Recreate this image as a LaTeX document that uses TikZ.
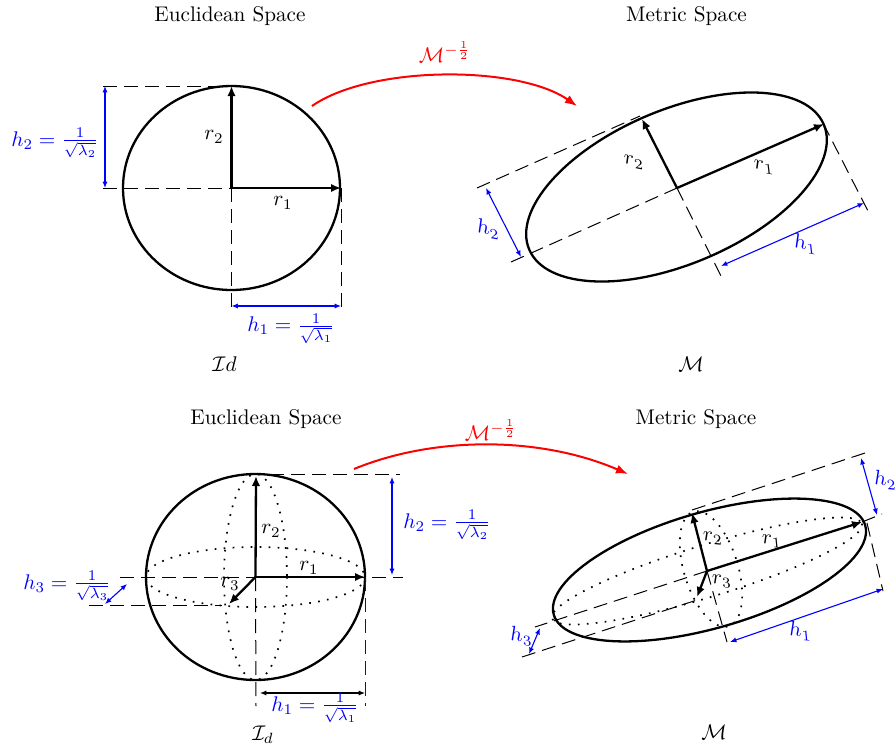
\documentclass[tikz,border=0pt]{standalone}
\usepackage{amsmath}
\usetikzlibrary{arrows.meta}
\tikzset{
  every node/.style={inner sep=0pt,outer sep=0pt,scale=1.06},
  outline/.style={draw=black,line width=1.15pt},
  radius arrow/.style={draw=black,line width=1.15pt,-{Latex[length=5pt,width=4.2pt]}},
  guide/.style={draw=black,line width=0.5pt,dash pattern=on 7pt off 3.5pt},
  blue guide/.style={draw=blue,line width=0.5pt,dash pattern=on 7pt off 3.5pt},
  dim/.style={draw=blue,line width=0.55pt,{Latex[length=3.2pt,width=2.6pt]}-{Latex[length=3.2pt,width=2.6pt]}},
  black dim/.style={draw=black,line width=0.55pt,{Latex[length=3.2pt,width=2.6pt]}-{Latex[length=3.2pt,width=2.6pt]}},
  map arrow/.style={draw=red,line width=1pt,-{Latex[length=6pt,width=4.6pt]}},
  dots/.style={draw=black,line width=0.85pt,dash pattern=on 0.85pt off 3.65pt},
  bluelabel/.style={text=blue},
  redlabel/.style={text=red},
  sheared/.style={xslant=-0.12,yslant=-0.2},
  sheared low/.style={xslant=-0.1,yslant=-0.1},
}
\begin{document}
\begin{tikzpicture}[x=0.5pt,y=-0.5pt]
\useasboundingbox (0,0) rectangle (896,746);

%% ---------- top left
\node (t1) at (230,16.5) {Euclidean Space};
\coordinate (A) at (231.5,188);
\coordinate (Atop) at (231.5,86);
\coordinate (Aright) at (341,188);
\coordinate (Ahl) at (103,86);
\coordinate (Aml) at (103,188);
\coordinate (Abl) at (231.5,309);
\coordinate (Abr) at (341,309);
\coordinate (Ad1) at (105,86);
\coordinate (Ad2) at (105,188);
\coordinate (Ad3) at (231.5,306);
\coordinate (Ad4) at (341,306);
\draw[outline] (A) ellipse [x radius=108.5,y radius=102];
\draw[guide] (Ahl) -- (Atop);
\draw[guide] (Aml) -- (A);
\draw[guide] (A) -- (Abl);
\draw[guide] (Aright) -- (Abr);
\draw[radius arrow] (A) -- (Aright);
\draw[radius arrow] (A) -- (Atop);
\draw[dim] (Ad1) -- (Ad2);
\draw[dim] (Ad3) -- (Ad4);
\node (tr1) at (283,203) {$r_1$};
\node (tr2) at (214,137) {$r_2$};
\node[bluelabel] (th2) at (55,143) {$h_2=\frac{1}{\sqrt{\lambda_2}}$};
\node[bluelabel] (th1) at (291,328.5) {$h_1=\frac{1}{\sqrt{\lambda_1}}$};
\node (tid) at (224.5,364.5) {$\mathcal{I}d$};

%% ---------- top map
\coordinate (Ma) at (312,106);
\coordinate (Mb) at (577,106);
\draw[map arrow] (Ma) .. controls (371,65) and (518,65) .. (Mb);
\node[redlabel] (tm) at (445,52) {$\mathcal{M}^{-\frac{1}{2}}$};

%% ---------- top right
\node (t2) at (686.5,16.5) {Metric Space};
\coordinate (B) at (677,188);
\coordinate (Bc) at (676.5,187);
\coordinate (Br1) at (824,124);
\coordinate (Br2) at (642,119);
\coordinate (Bu1) at (477,188);
\coordinate (Bu2) at (640,116);
\coordinate (Bl) at (511,262);
\coordinate (Bb) at (721,276);
\coordinate (Bq1) at (823,123);
\coordinate (Bq2) at (868,211);
\coordinate (Bd1) at (721,266);
\coordinate (Bd2) at (864,203);
\coordinate (Bd3) at (486,188);
\coordinate (Bd4) at (521,257);
\draw[outline,rotate around={23:(Bc)}] (Bc) ellipse [x radius=160,y radius=77];
\draw[guide] (Bu1) -- (Bu2);
\draw[guide] (Bl) -- (B);
\draw[guide] (B) -- (Bb);
\draw[guide] (Bq1) -- (Bq2);
\draw[radius arrow] (B) -- (Br1);
\draw[radius arrow] (B) -- (Br2);
\draw[dim] (Bd1) -- (Bd2);
\draw[dim] (Bd3) -- (Bd4);
\node[sheared] (br1) at (764,167) {$r_1$};
\node[sheared] (br2) at (634,162) {$r_2$};
\node[bluelabel,sheared] (bh1) at (805,244) {$h_1$};
\node[bluelabel,sheared] (bh2) at (488,229) {$h_2$};
\node (bm) at (691,364) {$\mathcal{M}$};

%% ---------- bottom left
\node (t3) at (266,419.5) {Euclidean Space};
\coordinate (C) at (255.5,577);
\coordinate (Ctop) at (256,476);
\coordinate (Cright) at (365,577);
\coordinate (Cr3) at (229,604);
\coordinate (Cg1) at (120,577);
\coordinate (Cg2) at (403,577);
\coordinate (Cg3) at (89,605);
\coordinate (Cg4) at (222,605);
\coordinate (Cg5) at (256,706);
\coordinate (Cg6) at (365.5,577);
\coordinate (Cg7) at (365.5,706);
\coordinate (Cg8) at (270,474);
\coordinate (Cg9) at (400,474);
\coordinate (Cd1) at (260,693);
\coordinate (Cd2) at (365,693);
\coordinate (Cd3) at (392,477);
\coordinate (Cd4) at (392,575);
\coordinate (Cd5) at (105,604);
\coordinate (Cd6) at (127,584);
\draw[dots] (C) ellipse [x radius=109.5,y radius=30];
\draw[dots] (C) ellipse [x radius=31.5,y radius=103];
\draw[outline] (C) ellipse [x radius=109.5,y radius=103];
\draw[guide] (Cg1) -- (Cg2);
\draw[guide] (Cg3) -- (Cg4);
\draw[guide] (C) -- (Cg5);
\draw[blue guide] (Cg6) -- (Cg7);
\draw[guide] (Cg8) -- (Cg9);
\draw[radius arrow] (C) -- (Ctop);
\draw[radius arrow] (C) -- (Cright);
\draw[radius arrow] (C) -- (Cr3);
\draw[black dim] (Cd1) -- (Cd2);
\draw[dim] (Cd3) -- (Cd4);
\draw[dim] (Cd5) -- (Cd6);
\node (cr1) at (309,568) {$r_1$};
\node (cr2) at (271,531) {$r_2$};
\node (cr3) at (230,584) {$r_3$};
\node[bluelabel] (ch2) at (447,525) {$h_2=\frac{1}{\sqrt{\lambda_2}}$};
\node[bluelabel] (ch1) at (315,708) {$h_1=\frac{1}{\sqrt{\lambda_1}}$};
\node[bluelabel] (ch3) at (67,586) {$h_3=\frac{1}{\sqrt{\lambda_3}}$};
\node (cid) at (263,735) {$\mathcal{I}_d$};

%% ---------- bottom map
\coordinate (Na) at (354,469);
\coordinate (Nb) at (628,474);
\draw[map arrow] (Na) .. controls (434,436) and (540,436) .. (Nb);
\node[redlabel] (tn) at (491,430) {$\mathcal{M}^{-\frac{1}{2}}$};

%% ---------- bottom right
\node (t4) at (696,419.5) {Metric Space};
\coordinate (D) at (707,571);
\coordinate (Dc) at (709.5,570);
\coordinate (Dv) at (711,569);
\coordinate (Dr1) at (862,522);
\coordinate (Dr2) at (692,513);
\coordinate (Dr3) at (697,597);
\coordinate (Dg1) at (692,510);
\coordinate (Dg2) at (865,453);
\coordinate (Dg3) at (862,522);
\coordinate (Dg4) at (882,514);
\coordinate (Dg5) at (535,627);
\coordinate (Dg6) at (522,657);
\coordinate (Dg7) at (697,600);
\coordinate (Dg8) at (727,642);
\coordinate (Dg9) at (867,523);
\coordinate (Dg10) at (883,591);
\coordinate (Dd1) at (730,642);
\coordinate (Dd2) at (883,589);
\coordinate (Dd3) at (861,458);
\coordinate (Dd4) at (877,515);
\coordinate (Dd5) at (540,628);
\coordinate (Dd6) at (529,654);
\draw[dots,rotate around={17:(D)}] (D) ellipse [x radius=162,y radius=26];
\draw[dots,rotate around={17:(Dv)}] (Dv) ellipse [x radius=27,y radius=60];
\draw[outline,rotate around={16:(Dc)}] (Dc) ellipse [x radius=162,y radius=58];
\draw[guide] (Dg1) -- (Dg2);
\draw[guide] (Dg3) -- (Dg4);
\draw[guide] (D) -- (Dg5);
\draw[guide] (Dg6) -- (Dg7);
\draw[guide] (D) -- (Dg8);
\draw[guide] (Dg9) -- (Dg10);
\draw[radius arrow] (D) -- (Dr1);
\draw[radius arrow] (D) -- (Dr2);
\draw[radius arrow] (D) -- (Dr3);
\draw[dim] (Dd1) -- (Dd2);
\draw[dim] (Dd3) -- (Dd4);
\draw[dim] (Dd5) -- (Dd6);
\node[sheared low] (dr1) at (772,541) {$r_1$};
\node[sheared low] (dr2) at (713,538) {$r_2$};
\node[sheared low] (dr3) at (722,581) {$r_3$};
\node[bluelabel,sheared low] (dh1) at (800,631) {$h_1$};
\node[bluelabel,sheared low] (dh2) at (885,480) {$h_2$};
\node[bluelabel,sheared low] (dh3) at (521,636) {$h_3$};
\node (dm) at (714,732) {$\mathcal{M}$};
\end{tikzpicture}
\end{document}
